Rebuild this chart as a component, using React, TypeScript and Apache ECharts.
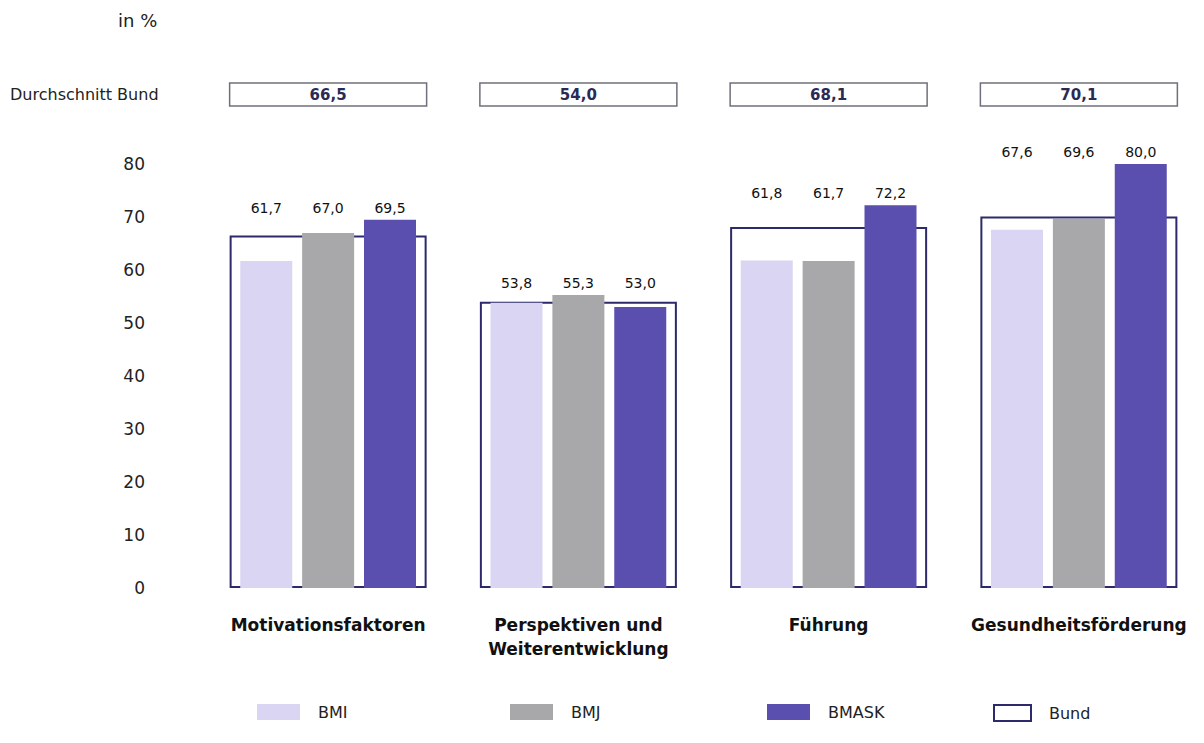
import React, { useEffect, useRef } from "react";
import * as echarts from "echarts";

const categories = ["Motivationsfaktoren", "Perspektiven und\nWeiterentwicklung", "Führung", "Gesundheitsförderung"];
const bmiValues = [61.7, 53.8, 61.8, 67.6];
const bmjValues = [67.0, 55.3, 61.7, 69.6];
const bmaskValues = [69.5, 53.0, 72.2, 80.0];
const bundValues = [66.5, 54.0, 68.1, 70.1];
const seriesNames = ["BMI", "BMJ", "BMASK", "Bund"];
const yMin = 0;
const yMax = 80;
const yInterval = 10;

const COLORS = { BMI: "#d9d5f3", BMJ: "#a8a8ab", BMASK: "#5a4fae", Bund: "#2c2a6a" };
const FONT = "'DejaVu Sans', sans-serif";

const fmt = (v: number) => v.toFixed(1).replace(".", ",");

export default function App() {
  const ref = useRef<HTMLDivElement>(null);
  useEffect(() => {
    if (!ref.current) return;
    const chart = echarts.init(ref.current, null, { renderer: "svg" });
    const all = [bmiValues, bmjValues, bmaskValues];
    const groupMax = categories.map((_, i) => Math.max(bmiValues[i], bmjValues[i], bmaskValues[i]));
    const barW = 52;
    const gap = "19%";
    const valueBars = all.map((arr, k) => ({
      name: seriesNames[k],
      type: "bar",
      xAxisIndex: 0,
      barWidth: barW,
      barGap: gap,
      z: 3,
      itemStyle: { color: COLORS[seriesNames[k] as keyof typeof COLORS] },
      data: arr,
    }));
    const labelBars = all.map((arr, k) => ({
      name: "lbl" + k,
      type: "bar",
      xAxisIndex: 1,
      barWidth: barW,
      barGap: gap,
      silent: true,
      z: 4,
      itemStyle: { color: "rgba(0,0,0,0)" },
      label: {
        show: true,
        position: "top",
        distance: 5,
        fontFamily: FONT,
        fontSize: 14,
        color: "#111",
        formatter: (p: any) => fmt(arr[p.dataIndex]),
      },
      data: groupMax,
    }));
    chart.setOption({
      animation: false,
      textStyle: { fontFamily: FONT },
      grid: { left: 203, top: 164, width: 1006, height: 424, containLabel: false },
      xAxis: [
        {
          type: "category",
          data: categories,
          axisLine: { show: false },
          axisTick: { show: false },
          axisLabel: {
            interval: 0,
            hideOverlap: false,
            margin: 25,
            fontFamily: FONT,
            fontSize: 17,
            fontWeight: "bold",
            color: "#111",
            lineHeight: 24,
          },
        },
        { type: "category", data: categories, show: false },
        { type: "category", data: categories, show: false },
      ],
      yAxis: {
        type: "value",
        min: yMin,
        max: yMax,
        interval: yInterval,
        axisLine: { show: false },
        axisTick: { show: false },
        splitLine: { show: false },
        axisLabel: { margin: 58, fontFamily: FONT, fontSize: 17, color: "#222" },
      },
      legend: [0, 1, 2, 3].map((k) => ({
        data: [
          k === 3
            ? { name: "Bund", icon: "rect", itemStyle: { color: "#fff", borderColor: COLORS.Bund, borderWidth: 2 } }
            : { name: seriesNames[k], icon: "rect" },
        ],
        left: [257, 510, 767, 993][k],
        top: 704,
        padding: 0,
        itemWidth: k === 3 ? 37 : 43,
        itemHeight: 16,
        selectedMode: false,
        textStyle: { fontFamily: FONT, fontSize: 16, color: "#222", padding: [0, 0, 0, 13] },
      })),
      graphic: [
        { type: "text", left: 118, top: 11, style: { text: "in %", fontFamily: FONT, fontSize: 18, fill: "#222" } },
        { type: "text", left: 10, top: 86, style: { text: "Durchschnitt Bund", fontFamily: FONT, fontSize: 16, fill: "#222" } },
      ],
      series: [
        {
          name: "Bund",
          type: "bar",
          xAxisIndex: 2,
          barWidth: 197,
          z: 2,
          itemStyle: { color: "rgba(255,255,255,0)", borderColor: COLORS.Bund, borderWidth: 2 },
          data: bundValues,
        },
        ...valueBars,
        ...labelBars,
        {
          name: "durchschnitt",
          type: "custom",
          xAxisIndex: 0,
          clip: false,
          silent: true,
          data: bundValues.map((v, i) => [i, v]),
          renderItem: (params: any, api: any) => {
            const cx = api.coord([api.value(0), 0])[0];
            const topY = api.coord([0, yMax])[1];
            const w = 197;
            const h = 23;
            const y = topY - 81;
            return {
              type: "group",
              children: [
                {
                  type: "rect",
                  shape: { x: cx - w / 2, y, width: w, height: h },
                  style: { fill: "#fff", stroke: "#70707c", lineWidth: 1.5 },
                },
                {
                  type: "text",
                  style: {
                    text: fmt(api.value(1)),
                    x: cx,
                    y: y + h / 2,
                    align: "center",
                    verticalAlign: "middle",
                    fontFamily: FONT,
                    fontSize: 15,
                    fontWeight: "bold",
                    fill: "#2b2a55",
                  },
                },
              ],
            };
          },
        },
      ],
    });
    return () => chart.dispose();
  }, []);
  return <div ref={ref} style={{ position: "absolute", left: 0, top: 0, width: 1204, height: 743 }} />;
}
